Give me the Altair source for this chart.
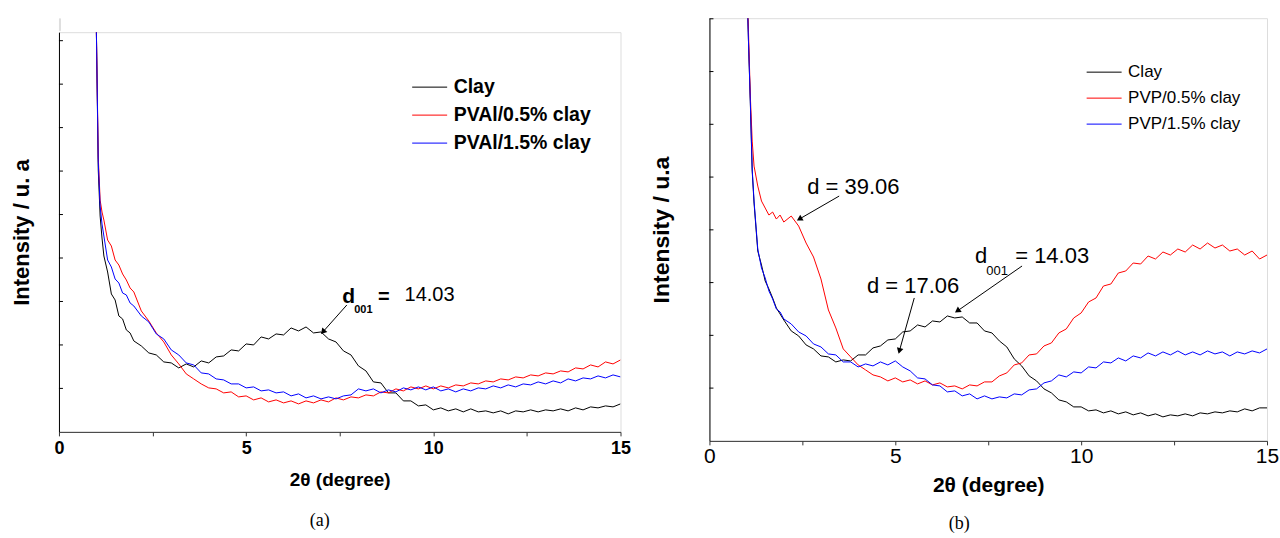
import math
import altair as alt
import pandas as pd

# ---------------- data ----------------
TWO_THETA = [0.97, 1.0, 1.05, 1.1, 1.15, 1.2, 1.3, 1.4, 1.5, 1.6, 1.7, 1.8, 1.9, 2.0,
             2.2, 2.4, 2.6, 2.8, 3.0, 3.2, 3.4, 3.6, 3.8, 4.0,
             4.2, 4.4, 4.6, 4.8, 5.0, 5.2, 5.4, 5.6, 5.8, 6.0,
             6.2, 6.4, 6.6, 6.8, 7.0, 7.2, 7.4, 7.6, 7.8, 8.0,
             8.2, 8.4, 8.6, 8.8, 9.0, 9.2, 9.4, 9.6, 9.8, 10.0,
             10.2, 10.4, 10.6, 10.8, 11.0, 11.2, 11.4, 11.6, 11.8, 12.0,
             12.2, 12.4, 12.6, 12.8, 13.0, 13.2, 13.4, 13.6, 13.8, 14.0,
             14.2, 14.4, 14.6, 14.8, 15.0]

# panel (a)
CLAY_A = [560, 400, 262, 216, 194, 176, 160, 138, 132, 116, 113, 102, 99, 91,
          86, 79, 77, 70, 69, 64, 68, 65, 71, 69,
          75, 76, 82, 81, 88, 87, 95, 93, 98, 97,
          104, 101, 105, 99, 100, 93, 90, 81, 77, 66,
          61, 50, 49, 39, 39, 31, 31, 26, 27, 22,
          24, 21, 23, 20, 23, 20, 21, 19, 21, 18,
          21, 20, 22, 20, 22, 21, 23, 21, 24, 22,
          25, 24, 26, 25, 28]
PVAL05_A = [560, 400, 275, 232, 220, 212, 192, 186, 172, 167, 158, 152, 144, 140,
            121, 111, 99, 90, 77, 68, 58, 53, 48, 44,
            43, 39, 40, 35, 36, 32, 34, 30, 32, 29,
            31, 28, 31, 29, 32, 30, 34, 32, 35, 34,
            37, 36, 40, 39, 43, 41, 45, 43, 46, 43,
            46, 44, 47, 46, 49, 48, 51, 50, 53, 52,
            55, 54, 57, 56, 59, 58, 61, 60, 64, 63,
            67, 65, 70, 68, 72]
PVAL15_A = [560, 400, 270, 226, 208, 196, 172, 165, 153, 149, 139, 137, 129, 126,
            116, 110, 98, 93, 82, 77, 69, 67, 59, 58,
            53, 52, 48, 48, 44, 45, 41, 42, 39, 40,
            36, 38, 34, 36, 33, 35, 33, 36, 37, 43,
            41, 43, 39, 42, 40, 44, 42, 45, 42, 45,
            41, 43, 40, 43, 41, 44, 43, 46, 44, 47,
            45, 48, 47, 50, 48, 51, 49, 53, 51, 54,
            53, 56, 54, 57, 55]

# panel (b)
CLAY_B = [560, 470, 400, 338, 270, 238, 190, 176, 160, 152, 143, 133, 127, 121,
          110, 105, 96, 92, 85, 84, 79, 81, 80, 86,
          86, 93, 95, 101, 102, 109, 110, 116, 114, 120,
          119, 125, 123, 124, 118, 118, 110, 108, 100, 94,
          82, 75, 65, 60, 52, 48, 41, 39, 34, 34,
          30, 31, 28, 30, 27, 29, 26, 28, 25, 27,
          24, 26, 25, 27, 25, 28, 27, 29, 28, 30,
          29, 32, 30, 33, 33]
PVP05_B = [560, 470, 410, 345, 300, 275, 255, 240, 233, 226, 229, 222, 226, 219,
           225, 215, 198, 184, 162, 131, 113, 92, 84, 76,
           71, 66, 64, 60, 63, 59, 61, 57, 60, 56,
           58, 54, 55, 52, 56, 55, 59, 59, 65, 68,
           76, 78, 86, 87, 95, 98, 108, 112, 123, 128,
           139, 143, 155, 157, 168, 170, 178, 177, 185, 182,
           189, 186, 192, 189, 196, 192, 198, 193, 196, 190,
           192, 186, 190, 182, 186]
PVP15_B = [560, 470, 400, 340, 272, 240, 192, 173, 163, 150, 142, 132, 129, 122,
           117, 109, 105, 97, 94, 87, 86, 79, 79, 74,
           77, 75, 79, 76, 80, 74, 70, 63, 62, 56,
           55, 49, 50, 45, 47, 42, 45, 42, 44, 43,
           47, 46, 51, 52, 58, 60, 66, 64, 69, 68,
           74, 73, 79, 78, 83, 80, 85, 83, 88, 85,
           89, 86, 90, 86, 89, 86, 90, 87, 89, 85,
           89, 87, 90, 88, 92]

SERIES_A = ["Clay", "PVAl/0.5% clay", "PVAl/1.5% clay"]
SERIES_B = ["Clay", "PVP/0.5% clay", "PVP/1.5% clay"]
COLORS = ["#000000", "#ff0000", "#0000ff"]

X_TICKS = [0, 2.5, 5, 7.5, 10, 12.5, 15]
Y_TICKS_A = [43.5, 87, 130.5, 174, 217.5, 261, 304.5, 348, 391.5]
Y_TICKS_B = [52.8, 105.6, 158.4, 211.2, 264, 316.8, 369.6, 422.4]

# annotations (data coordinates)
ANN_A_TEXT = ["d", "001", "=", "14.03"]
ANN_A_X = [7.74, 8.13, 8.68, 9.9]
ANN_A_Y = [135, 122, 135, 137]
ANN_A_SIZE = [21, 11, 20, 20]
ANN_A_WEIGHT = ["bold", "bold", "bold", "normal"]
ARROW_A = {"x": [7.69], "y": [127], "x2": [7.05], "y2": [100]}

ANN_B_TEXT = ["d = 39.06", "d = 17.06", "d", "001", "= 14.03"]
ANN_B_X = [3.87, 5.48, 7.31, 7.74, 9.22]
ANN_B_Y = [254, 155, 185, 170, 185]
ANN_B_SIZE = [22, 22, 22, 13, 22]
ARROW_B = {"x": [3.49, 5.51, 8.41], "y": [245, 143, 175],
           "x2": [2.42, 5.11, 6.67], "y2": [222, 90, 130]}

# ---------------- layout constants ----------------
WA, HA, YMAX_A = 562, 400, 400
WB, HB, YMAX_B = 558, 423, 423
FONT = "Liberation Sans"


def long_df(names, arrays):
    rows = []
    for k, (name, arr) in enumerate(zip(names, arrays)):
        for x, y in zip(TWO_THETA, arr):
            rows.append({"x": x, "y": y, "s": name, "k": k})
    return pd.DataFrame(rows)


def arrow_df(d, w, h, ymax):
    df = pd.DataFrame(d)
    sx = w / 15.0
    sy = h / ymax
    ang = []
    for x1, y1, x2, y2 in zip(df.x, df.y, df.x2, df.y2):
        dxs = (x2 - x1) * sx
        dys = -(y2 - y1) * sy
        a = math.degrees(math.atan2(dxs, -dys)) % 360
        ang.append(a)
    df["angle"] = ang
    return df


def panel(names, arrays, w, h, ymax, yticks, ytitle, label_bold, label_size, label_pad,
          xtitle_size, xtitle_pad, ytitle_size, ytitle_pad, legend_x, legend_y, legend_bold,
          legend_size, legend_row, caption, caption_dx, caption_offset):
    df = long_df(names, arrays)
    xscale = alt.Scale(domain=[0, 15], nice=False, zero=False)
    yscale = alt.Scale(domain=[0, ymax], nice=False, zero=True)
    xaxis = alt.Axis(values=X_TICKS, labelExpr="datum.value % 5 === 0 ? datum.label : ''",
                     title="2θ (degree)", titleFont=FONT, titleFontSize=xtitle_size,
                     titleFontWeight="bold", titleColor="black",
                     labelFont=FONT, labelFontSize=label_size,
                     labelFontWeight="bold" if label_bold else "normal",
                     labelColor="black", tickSize=4, tickColor="#333", domainColor="#333",
                     labelPadding=label_pad, titlePadding=xtitle_pad, grid=False, labelFlush=False)
    yaxis = alt.Axis(title=ytitle, labels=False, ticks=False, grid=False,
                     domainColor="black", titleFont=FONT, titleFontSize=ytitle_size,
                     titleFontWeight="bold", titleColor="black", titlePadding=ytitle_pad)
    lines = alt.Chart(df).mark_line(strokeWidth=1, clip=True).encode(
        x=alt.X("x:Q", scale=xscale, axis=xaxis),
        y=alt.Y("y:Q", scale=yscale, axis=yaxis),
        color=alt.Color("s:N", scale=alt.Scale(domain=names, range=COLORS),
                        legend=alt.Legend(orient="none", legendX=legend_x, legendY=legend_y,
                                          title=None, symbolType="stroke", symbolSize=1225,
                                          symbolStrokeWidth=1, labelFont=FONT,
                                          labelFontSize=legend_size,
                                          labelFontWeight="bold" if legend_bold else "normal",
                                          labelColor="black", labelOffset=6,
                                          rowPadding=legend_row, padding=0, labelLimit=400)),
        detail="s:N",
        order="x:Q",
    )
    ticks = alt.Chart(pd.DataFrame({"t": yticks})).mark_rule(color="black", strokeWidth=1).encode(
        y=alt.Y("t:Q", scale=yscale), x=alt.value(0), x2=alt.value(4))
    layer = alt.layer(lines, ticks).properties(
        width=w, height=h,
        title=alt.TitleParams(caption, orient="bottom", font="Liberation Serif", fontSize=18,
                              fontWeight="normal", color="black", dx=caption_dx,
                              offset=caption_offset))
    return layer, xscale, yscale


panelA, xsA, ysA = panel(SERIES_A, [CLAY_A, PVAL05_A, PVAL15_A], WA, HA, YMAX_A, Y_TICKS_A,
                         "Intensity / u. a", True, 18, 4, 19, 13, 22, 25, 353, 51, True, 19.5, -10,
                         "(a)", -20, 22)
panelB, xsB, ysB = panel(SERIES_B, [CLAY_B, PVP05_B, PVP15_B], WB, HB, YMAX_B, Y_TICKS_B,
                         "Intensity / u.a", False, 21, 1, 21, 8, 23, 36, 377, 36, False, 17, -10,
                         "(b)", -29, 19)

annA = pd.DataFrame({"t": ANN_A_TEXT, "x": ANN_A_X, "y": ANN_A_Y, "size": ANN_A_SIZE,
                     "w": ANN_A_WEIGHT})
textA_bold = alt.Chart(annA[annA.w == "bold"]).mark_text(font=FONT, fontWeight="bold", color="black").encode(
    x=alt.X("x:Q", scale=xsA), y=alt.Y("y:Q", scale=ysA), text="t:N",
    size=alt.Size("size:Q", scale=None, legend=None))
textA_norm = alt.Chart(annA[annA.w == "normal"]).mark_text(font=FONT, color="black").encode(
    x=alt.X("x:Q", scale=xsA), y=alt.Y("y:Q", scale=ysA), text="t:N",
    size=alt.Size("size:Q", scale=None, legend=None))
arrA = arrow_df(ARROW_A, WA, HA, YMAX_A)
ruleA = alt.Chart(arrA).mark_rule(color="black", strokeWidth=1).encode(
    x=alt.X("x:Q", scale=xsA), y=alt.Y("y:Q", scale=ysA), x2="x2:Q", y2="y2:Q")
headA = alt.Chart(arrA).mark_point(shape="triangle-up", filled=True, color="black", size=45, opacity=1).encode(
    x=alt.X("x2:Q", scale=xsA), y=alt.Y("y2:Q", scale=ysA), angle=alt.Angle("angle:Q", scale=None))

annB = pd.DataFrame({"t": ANN_B_TEXT, "x": ANN_B_X, "y": ANN_B_Y, "size": ANN_B_SIZE})
textB = alt.Chart(annB).mark_text(font=FONT, color="black").encode(
    x=alt.X("x:Q", scale=xsB), y=alt.Y("y:Q", scale=ysB), text="t:N",
    size=alt.Size("size:Q", scale=None, legend=None))
arrB = arrow_df(ARROW_B, WB, HB, YMAX_B)
ruleB = alt.Chart(arrB).mark_rule(color="black", strokeWidth=1).encode(
    x=alt.X("x:Q", scale=xsB), y=alt.Y("y:Q", scale=ysB), x2="x2:Q", y2="y2:Q")
headB = alt.Chart(arrB).mark_point(shape="triangle-up", filled=True, color="black", size=45, opacity=1).encode(
    x=alt.X("x2:Q", scale=xsB), y=alt.Y("y2:Q", scale=ysB), angle=alt.Angle("angle:Q", scale=None))

fullA = alt.layer(panelA, textA_bold, textA_norm, ruleA, headA)
fullB = alt.layer(panelB, textB, ruleB, headB)

spacer = alt.Chart(pd.DataFrame({"v": [0]})).mark_point(opacity=0).encode(
    x=alt.value(0), y=alt.value(0)).properties(width=1, height=12)

chart = alt.hconcat(
    alt.vconcat(spacer, fullA, spacing=0),
    fullB,
    spacing=18,
).resolve_scale(color="independent").properties(
    padding={"left": 10, "top": 14, "right": 0, "bottom": 0}
).configure_view(stroke=None).configure(background="white")

chart.save("out.html", embed_options={"renderer": "svg", "actions": False})
